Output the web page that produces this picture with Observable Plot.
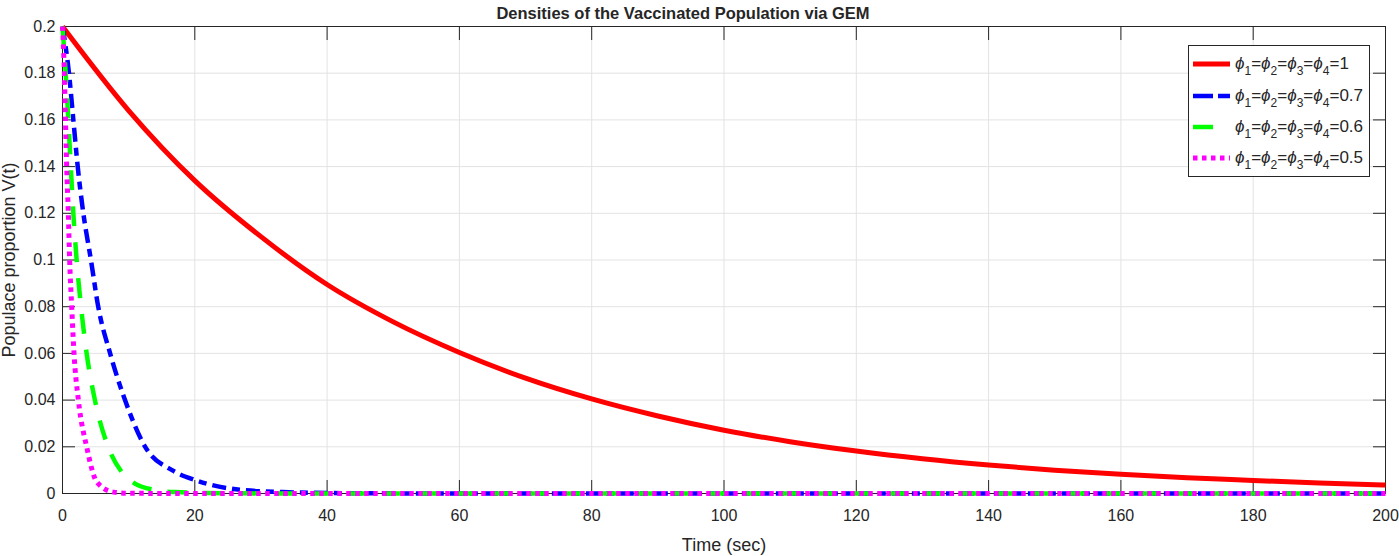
<!DOCTYPE html>
<html>
<head>
<meta charset="utf-8">
<script src="https://cdn.jsdelivr.net/npm/d3@7"></script>
<script src="https://cdn.jsdelivr.net/npm/@observablehq/plot@0.6"></script>
<style>
  html, body { margin: 0; padding: 0; background: #fff; }
  #wrap { position: relative; width: 1399px; height: 556px; }
  #wrap svg text { fill: #262626; }
  g[aria-label="x-axis label"] text, g[aria-label="y-axis label"] text { font-size: 18px; }
  #legend { position: absolute; left: 1188px; top: 45px; width: 180px; height: 130px;
            border: 1px solid #262626; background: #fff; font-family: "Liberation Sans", Arial, sans-serif; }
</style>
</head>
<body>
<div id="wrap"></div>
<script>
const titleText = "Densities of the Vaccinated Population via GEM";
const xLabel = "Time (sec)";
const yLabel = "Populace proportion V(t)";
const xTicks = [0, 20, 40, 60, 80, 100, 120, 140, 160, 180, 200];
const yTicks = [0, 0.02, 0.04, 0.06, 0.08, 0.1, 0.12, 0.14, 0.16, 0.18, 0.2];
const seriesNames = ["1", "0.7", "0.6", "0.5"];
const seriesColors = ["#ff0000", "#0000ff", "#00ff00", "#ff00ff"];

// phi = 1
const t1 = [0, 10, 20, 30, 40, 50, 60, 70, 80, 90, 100, 110, 120, 130, 140, 150, 160, 170, 180, 190, 200];
const v1 = [0.2, 0.164, 0.134, 0.110, 0.0895, 0.0735, 0.0604, 0.0494, 0.0405, 0.0332, 0.0271, 0.0222, 0.0182, 0.0149, 0.0122, 0.0100, 0.0082, 0.0067, 0.0056, 0.0045, 0.0036];
// phi = 0.7
const t07 = [0, 0.98, 1.64, 2.3, 3.15, 4.3, 5.4, 7.2, 9.45, 12.5, 16.7, 20, 26.8, 33.3, 40, 50, 60, 100, 150, 200];
const v07 = [0.2, 0.18, 0.16, 0.14, 0.12, 0.1, 0.08, 0.06, 0.04, 0.02, 0.0098, 0.0058, 0.0016, 0.0006, 0.0002, 0.00005, 0, 0, 0, 0];
// phi = 0.6
const t06 = [0, 0.48, 0.88, 1.25, 1.64, 2.14, 2.8, 3.65, 4.9, 6.9, 9, 10.95, 14, 17, 25, 40, 100, 150, 200];
const v06 = [0.2, 0.18, 0.16, 0.14, 0.12, 0.1, 0.08, 0.06, 0.04, 0.02, 0.009, 0.0042, 0.0015, 0.0006, 0.0001, 0, 0, 0, 0];
// phi = 0.5
const t05 = [0, 0.28, 0.45, 0.63, 0.88, 1.08, 1.39, 1.74, 2.4, 3.65, 5.2, 7.7, 10, 20, 100, 150, 200];
const v05 = [0.2, 0.18, 0.16, 0.14, 0.12, 0.1, 0.08, 0.06, 0.04, 0.02, 0.0049, 0.0006, 0.0001, 0, 0, 0, 0];

const series = [[t1, v1], [t07, v07], [t06, v06], [t05, v05]];
const styles = [
  {strokeWidth: 5, dash: null},
  {strokeWidth: 4.5, dash: "14,6,8,6"},
  {strokeWidth: 4.5, dash: "20,16"},
  {strokeWidth: 5, dash: "4.5,4.5"}
];

const tables = series.map(([ts, vs], i) => ts.map((t, j) => ({t, v: vs[j], s: seriesNames[i]})));

const font = "'Liberation Sans', Arial, Helvetica, sans-serif";

const lineMarks = tables.map((data, i) => Plot.line(data, {
  x: "t", y: "v", stroke: seriesColors[i], strokeWidth: styles[i].strokeWidth,
  strokeDasharray: styles[i].dash, strokeLinecap: "butt", strokeLinejoin: "round", curve: "monotone-x"
}));

const chart = Plot.plot({
  width: 1399,
  height: 556,
  marginTop: 26,
  marginBottom: 63,
  marginLeft: 62,
  marginRight: 14,
  style: {fontFamily: font, fontSize: "16px", background: "#fff", color: "#262626", overflow: "visible"},
  x: {domain: [0, 200], ticks: xTicks},
  y: {domain: [0, 0.2], ticks: yTicks},
  marks: [
    Plot.gridX(xTicks, {stroke: "#e3e3e3", strokeOpacity: 1}),
    Plot.gridY(yTicks, {stroke: "#e3e3e3", strokeOpacity: 1}),
    Plot.frame({stroke: "#262626", strokeWidth: 1}),
    Plot.axisX(xTicks, {anchor: "bottom", tickSize: -13, text: null, stroke: "#262626", label: null}),
    Plot.axisX(xTicks, {anchor: "top", tickSize: -13, text: null, stroke: "#262626", label: null}),
    Plot.axisY(yTicks, {anchor: "left", tickSize: -13, text: null, stroke: "#262626", label: null}),
    Plot.axisY(yTicks, {anchor: "right", tickSize: -13, text: null, stroke: "#262626", label: null}),
    Plot.axisX(xTicks, {anchor: "bottom", tickSize: 0, tickPadding: 16, label: xLabel, labelAnchor: "center", labelArrow: "none", labelOffset: 57, tickFormat: d3.format("")}),
    Plot.axisY(yTicks, {anchor: "left", tickSize: 0, tickPadding: 7, label: yLabel, labelAnchor: "center", labelOffset: 60, labelArrow: "none", tickFormat: d => d3.format("")(+d.toFixed(2))}),
    ...lineMarks,
    Plot.text([titleText], {frameAnchor: "top", lineAnchor: "bottom", dy: -8, dx: -41, fontWeight: "bold", fontSize: 16.5, fontFamily: "'Liberation Sans Narrow', 'Liberation Sans', Arial, sans-serif", fill: "#000"})
  ]
});
document.getElementById("wrap").appendChild(chart);

// Legend
const legend = d3.select("#wrap").append("div").attr("id", "legend");
const lsvg = legend.append("svg").attr("width", 180).attr("height", 130).style("display", "block");
const rowY = [18, 50, 81, 112];
seriesNames.forEach((name, i) => {
  const base = rowY[i] + 5;
  lsvg.append("line").attr("x1", 4).attr("x2", 41).attr("y1", rowY[i]).attr("y2", rowY[i])
    .attr("stroke", seriesColors[i]).attr("stroke-width", styles[i].strokeWidth)
    .attr("stroke-dasharray", i === 1 ? "20,5,12,5" : i === 2 ? "20,20" : styles[i].dash)
    .attr("stroke-linecap", "butt");
  const txt = lsvg.append("text").attr("x", 46).attr("y", base)
    .style("font-family", font).style("font-size", "17px").attr("fill", "#262626");
  [1, 2, 3, 4].forEach((k) => {
    txt.append("tspan").attr("y", base).style("font-style", "italic").text("ϕ");
    txt.append("tspan").attr("y", base + 6).style("font-size", "12px").text(String(k));
    txt.append("tspan").attr("y", base).text("=");
  });
  txt.append("tspan").attr("y", base).text(name);
});
</script>
</body>
</html>
